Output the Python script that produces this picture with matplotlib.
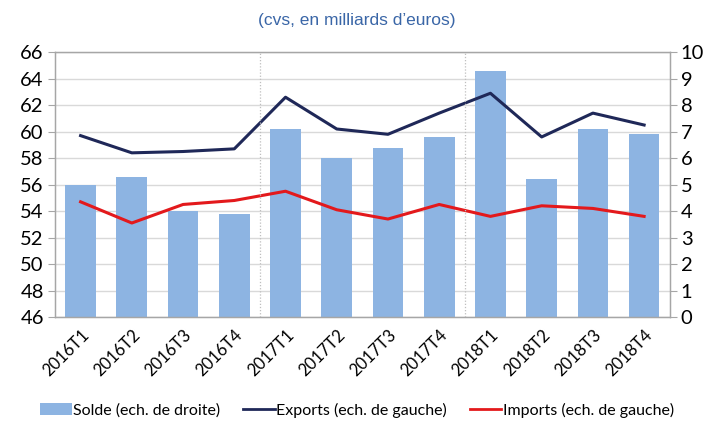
import matplotlib.pyplot as plt
from matplotlib.patches import Patch
from matplotlib.lines import Line2D


# ==========================================================
# Data
# ==========================================================

quarters = [
    "2016T1", "2016T2", "2016T3", "2016T4",
    "2017T1", "2017T2", "2017T3", "2017T4",
    "2018T1", "2018T2", "2018T3", "2018T4",
]

# right scale
solde = [5.0, 5.3, 4.0, 3.9, 7.1, 6.0, 6.4, 6.8, 9.3, 5.2, 7.1, 6.9]

# left scale
exports = [59.7, 58.4, 58.5, 58.7, 62.6, 60.2, 59.8, 61.4, 62.9, 59.6, 61.4, 60.5]
imports = [54.7, 53.1, 54.5, 54.8, 55.5, 54.1, 53.4, 54.5, 53.6, 54.4, 54.2, 53.6]


# ==========================================================
# Style
# ==========================================================

plt.rcParams["font.family"] = ["Lato", "DejaVu Sans"]

BAR_COLOR = "#8DB4E2"
EXPORT_COLOR = "#1F2858"
IMPORT_COLOR = "#E3191C"
GRID_COLOR = "#D9D9D9"
SPINE_COLOR = "#A6A6A6"


# ==========================================================
# Figure
# ==========================================================

fig = plt.figure(figsize=(7.14, 4.21), dpi=100)

ax = fig.add_axes([0.077, 0.247, 0.861, 0.629])
ax2 = ax.twinx()

x = list(range(len(quarters)))

ax2.bar(x, solde, width=0.6, color=BAR_COLOR, zorder=2)
ax2.set_ylim(0, 10)
ax2.set_yticks(range(0, 11))
ax2.grid(axis="y", color=GRID_COLOR, linewidth=1)
ax2.set_axisbelow(True)

ax.plot(x, exports, color=EXPORT_COLOR, linewidth=2.2)
ax.plot(x, imports, color=IMPORT_COLOR, linewidth=2.2)
ax.set_ylim(46, 66)
ax.set_yticks(range(46, 67, 2))
ax.set_xlim(-0.5, len(quarters) - 0.5)

# lines above bars
ax.set_zorder(ax2.get_zorder() + 1)
ax.patch.set_visible(False)

for xs in [3.5, 7.5]:
    ax.axvline(xs, color="#BFBFBF", linestyle=(0, (1, 1.5)), linewidth=0.9)

ax.set_xticks(x)
ax.set_xticklabels(quarters, rotation=45, ha="right", rotation_mode="anchor",
                   fontsize=12)
ax.tick_params(axis="x", length=0, pad=7)

for a in [ax, ax2]:
    a.tick_params(axis="y", labelsize=14.5, color=SPINE_COLOR, length=5, pad=3)
    for s in a.spines.values():
        s.set_color(SPINE_COLOR)
        s.set_linewidth(0.9)

fig.text(0.5, 0.952, "(cvs, en milliards d\u2019euros)", ha="center", va="center",
         fontsize=12.5, color="#3A66A7", family=["Liberation Sans", "DejaVu Sans"])

handles = [
    Patch(facecolor=BAR_COLOR, label="Solde (ech. de droite)"),
    Line2D([], [], color=EXPORT_COLOR, linewidth=2, label="Exports (ech. de gauche)"),
    Line2D([], [], color=IMPORT_COLOR, linewidth=2, label="Imports (ech. de gauche)"),
]

fig.legend(
    handles=handles,
    loc="center",
    bbox_to_anchor=(0.5, 0.026),
    ncol=3,
    frameon=False,
    fontsize=11.5,
    handlelength=2.0,
    handletextpad=0.1,
    columnspacing=1.4,
)

plt.savefig("out.png", dpi=100)
plt.close()
